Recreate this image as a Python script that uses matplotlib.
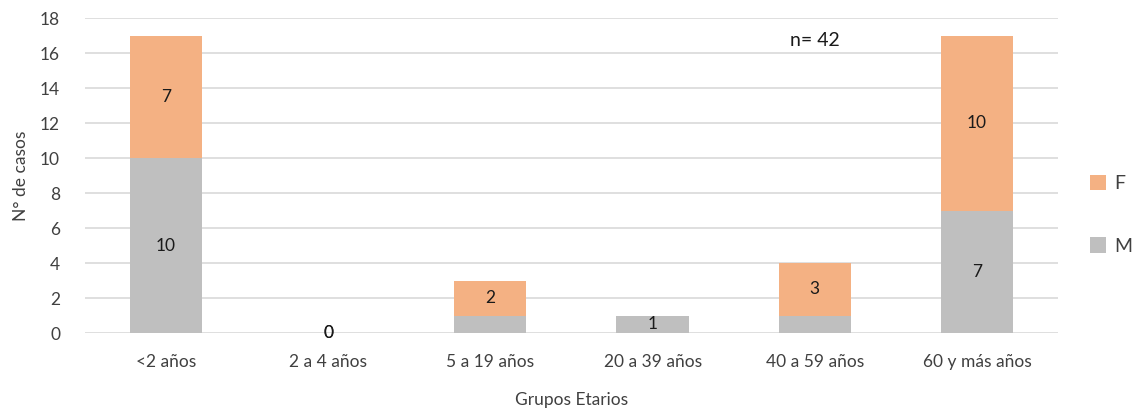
import numpy as np
import matplotlib.pyplot as plt
from matplotlib.patches import Patch

# Casos por grupo etario y sexo
grupos = ["<2 años", "2 a 4 años", "5 a 19 años", "20 a 39 años", "40 a 59 años", "60 y más años"]
masculino = [10, 0, 1, 1, 1, 7]
femenino = [7, 0, 2, 0, 3, 10]
etiquetas_m = ["10", "0", "", "1", "", "7"]
etiquetas_f = ["7", "0", "2", "", "3", "10"]
total_casos = 42

color_f = "#F4B183"
color_m = "#BFBFBF"
color_texto = "#404040"

plt.rcParams["font.family"] = ["Lato", "DejaVu Sans"]

fig = plt.figure(figsize=(11.32, 4.09), dpi=100)
ax = fig.add_axes([0.0751, 0.1858, 0.8595, 0.770])

x = np.arange(len(grupos))
ancho = 0.445
barras_m = ax.bar(x, masculino, ancho, color=color_m, zorder=2)
barras_f = ax.bar(x, femenino, ancho, bottom=masculino, color=color_f, zorder=2)

ax.bar_label(barras_m, labels=etiquetas_m, label_type="center", fontsize=12.5, color="#1a1a1a")
ax.bar_label(barras_f, labels=etiquetas_f, label_type="center", fontsize=12.5, color="#1a1a1a")

ax.set_xlim(-0.5, len(grupos) - 0.5)
ax.set_ylim(0, 18)
ax.set_yticks(range(0, 19, 2))
ax.set_xticks(x)
ax.set_xticklabels(grupos)
ax.tick_params(axis="both", length=0, labelsize=12.5, labelcolor=color_texto)
ax.tick_params(axis="y", pad=18)
ax.tick_params(axis="x", pad=15)
ax.yaxis.grid(True, color="#D9D9D9", linewidth=1.2, zorder=0)
ax.set_axisbelow(True)
for s in ax.spines.values():
    s.set_visible(False)

ax.set_xlabel("Grupos Etarios", fontsize=12.5, color=color_texto, labelpad=16)
ax.set_ylabel("N° de casos", fontsize=12.5, color=color_texto, labelpad=8)

ax.text(4, 16.7, f"n= {total_casos}", ha="center", va="center", fontsize=14, color="#1a1a1a")

leyenda = [Patch(facecolor=color_f, label="F"), Patch(facecolor=color_m, label="M")]
fig.legend(handles=leyenda, loc="center left", bbox_to_anchor=(0.947, 0.475), frameon=False,
           fontsize=14, labelcolor=color_texto, handlelength=0.85, handleheight=0.85,
           handletextpad=0.4, labelspacing=2.3)

fig.savefig("out.png", dpi=100)
